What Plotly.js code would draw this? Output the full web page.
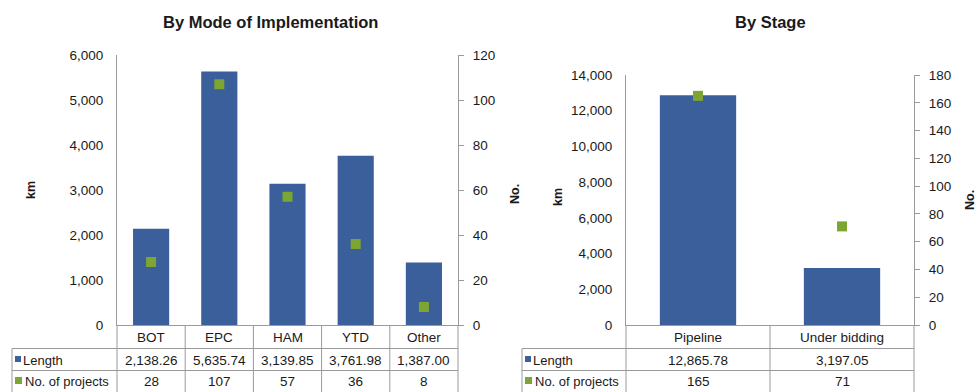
<!DOCTYPE html>
<html>
<head>
<meta charset="utf-8">
<script src="https://cdn.plot.ly/plotly-3.0.1.min.js"></script>
<style>
  html, body { margin: 0; padding: 0; background: #ffffff; }
  #chart { width: 978px; height: 392px; }
</style>
</head>
<body>
<div id="chart"></div>
<script>
// Highway projects: length (km) and number of projects
const modeCategories = ['BOT', 'EPC', 'HAM', 'YTD', 'Other'];
const modeLength = [2138.26, 5635.74, 3139.85, 3761.98, 1387.00];
const modeProjects = [28, 107, 57, 36, 8];

const stageCategories = ['Pipeline', 'Under bidding'];
const stageLength = [12865.78, 3197.05];
const stageProjects = [165, 71];

const rowHeaders = ['Length', 'No. of projects'];

const W = 978, H = 392;
const BLUE = '#3a5f9b';
const GREEN = '#7da533';
const LINE = '#9a9a9a';
const TXT = '#1a1a1a';
const FONT = 'Liberation Sans, Arial, sans-serif';

// pixel helpers for layout placement
const px = x => x / W;
const py = y => (H - y) / H;

const fmtLen = v => v.toLocaleString('en-US', { minimumFractionDigits: 2, maximumFractionDigits: 2 });

const traces = [
  { type: 'bar', x: modeCategories, y: modeLength, xaxis: 'x', yaxis: 'y',
    marker: { color: BLUE }, name: 'Length' },
  { type: 'scatter', mode: 'markers', x: modeCategories, y: modeProjects, xaxis: 'x', yaxis: 'y2',
    marker: { color: GREEN, symbol: 'square', size: 10 }, name: 'No. of projects' },
  { type: 'bar', x: stageCategories, y: stageLength, xaxis: 'x2', yaxis: 'y3',
    marker: { color: BLUE }, name: 'Length' },
  { type: 'scatter', mode: 'markers', x: stageCategories, y: stageProjects, xaxis: 'x2', yaxis: 'y4',
    marker: { color: GREEN, symbol: 'square', size: 10 }, name: 'No. of projects' }
];

const rowCat = py(337), rowLen = py(360), rowNum = py(381);
const annotations = [];
const shapes = [];

function note(xref, x, y, text, opts) {
  annotations.push(Object.assign({
    xref: xref, yref: 'paper', x: x, y: y, text: text, showarrow: false,
    xanchor: 'center', yanchor: 'middle',
    font: { size: 13.5, color: TXT, family: FONT }
  }, opts || {}));
}

// data table drawn under each chart, columns aligned with the categories
function addTable(xref, cats, lens, nums, leftPx, axisPx, rightPx) {
  cats.forEach((c, i) => {
    note(xref, c, rowCat, c);
    note(xref, c, rowLen, fmtLen(lens[i]));
    note(xref, c, rowNum, String(nums[i]));
  });
  for (let i = 0; i < cats.length - 1; i++) {
    shapes.push({ type: 'line', xref: xref, yref: 'paper', x0: i + 0.5, x1: i + 0.5,
      y0: py(325), y1: 0, line: { color: LINE, width: 1 } });
  }
  [[axisPx, py(325)], [rightPx, py(325)], [leftPx, py(348.5)]].forEach(([xp, top]) => {
    shapes.push({ type: 'line', xref: 'paper', yref: 'paper', x0: px(xp), x1: px(xp),
      y0: top, y1: 0, line: { color: LINE, width: 1 } });
  });
  [348.5, 370.5].forEach(yy => {
    shapes.push({ type: 'line', xref: 'paper', yref: 'paper', x0: px(leftPx), x1: px(rightPx),
      y0: py(yy), y1: py(yy), line: { color: LINE, width: 1 } });
  });
  shapes.push({ type: 'rect', xref: 'paper', yref: 'paper', x0: px(leftPx + 3), x1: px(leftPx + 9),
    y0: py(362), y1: py(356), fillcolor: BLUE, line: { width: 0 } });
  shapes.push({ type: 'rect', xref: 'paper', yref: 'paper', x0: px(leftPx + 3), x1: px(leftPx + 10),
    y0: py(384), y1: py(377), fillcolor: GREEN, line: { width: 0 } });
  note('paper', px(leftPx + 9), rowLen, rowHeaders[0], { xanchor: 'left', font: { size: 13, color: TXT, family: FONT } });
  note('paper', px(leftPx + 11), rowNum, rowHeaders[1], { xanchor: 'left', font: { size: 13, color: TXT, family: FONT } });
}

addTable('x', modeCategories, modeLength, modeProjects, 12, 117, 458);
addTable('x2', stageCategories, stageLength, stageProjects, 522, 626, 914);

// chart titles
note('paper', px(270), py(22), '<b>By Mode of Implementation</b>', { font: { size: 16.5, color: TXT, family: FONT } });
note('paper', px(770), py(22), '<b>By Stage</b>', { font: { size: 16.5, color: TXT, family: FONT } });

// axis titles
[[31, 190, 'km'], [515, 194, 'No.'], [558, 197, 'km'], [970, 200, 'No.']].forEach(([x, y, t]) => {
  note('paper', px(x), py(y), '<b>' + t + '</b>', { textangle: -90, font: { size: 12.5, color: TXT, family: FONT } });
});

const tickFont = { size: 13.5, color: TXT, family: FONT };
const baseX = { type: 'category', showgrid: false, zeroline: false, showticklabels: false,
  showline: true, linecolor: LINE, linewidth: 1, ticks: '', fixedrange: true };
const leftY = { showgrid: false, zeroline: false, showline: true, linecolor: LINE, linewidth: 1,
  ticks: '', tickformat: ',d', tickfont: tickFont, ticklabelstandoff: 10, fixedrange: true };
const rightY = { showgrid: false, zeroline: false, showline: true, linecolor: LINE, linewidth: 1,
  ticks: 'outside', ticklen: 5, tickcolor: LINE, tickfont: tickFont, side: 'right',
  ticklabelstandoff: 6, fixedrange: true };

const layout = {
  width: W, height: H,
  margin: { l: 0, r: 0, t: 0, b: 0 },
  paper_bgcolor: '#ffffff', plot_bgcolor: 'rgba(0,0,0,0)',
  showlegend: false,
  font: { family: FONT, color: TXT },
  bargap: 0.47,
  xaxis: Object.assign({}, baseX, { domain: [px(117), px(458)], anchor: 'y', range: [-0.5, 4.5] }),
  yaxis: Object.assign({}, leftY, { domain: [py(325), py(55)], range: [0, 6000], dtick: 1000, anchor: 'x' }),
  yaxis2: Object.assign({}, rightY, { overlaying: 'y', anchor: 'x', range: [0, 120], dtick: 20 }),
  xaxis2: Object.assign({}, baseX, { domain: [px(626), px(914)], anchor: 'y3', range: [-0.5, 1.5] }),
  yaxis3: Object.assign({}, leftY, { domain: [py(325), py(75)], range: [0, 14000], dtick: 2000, anchor: 'x2' }),
  yaxis4: Object.assign({}, rightY, { overlaying: 'y3', anchor: 'x2', range: [0, 180], dtick: 20 }),
  shapes: shapes,
  annotations: annotations
};

Plotly.newPlot('chart', traces, layout, { displayModeBar: false, staticPlot: true });
</script>
</body>
</html>
